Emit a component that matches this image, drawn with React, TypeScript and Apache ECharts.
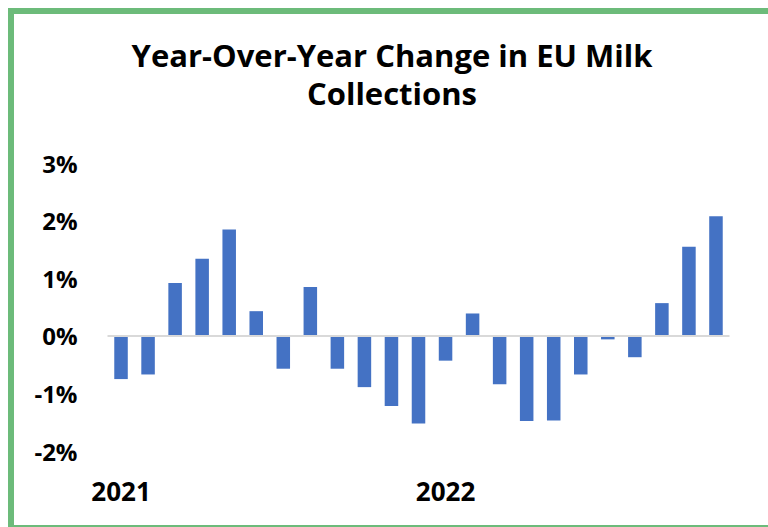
import React, { useEffect, useRef } from "react";
import * as echarts from "echarts";

const months: string[] = [
  "Jan 2021", "Feb 2021", "Mar 2021", "Apr 2021", "May 2021", "Jun 2021",
  "Jul 2021", "Aug 2021", "Sep 2021", "Oct 2021", "Nov 2021", "Dec 2021",
  "Jan 2022", "Feb 2022", "Mar 2022", "Apr 2022", "May 2022", "Jun 2022",
  "Jul 2022", "Aug 2022", "Sep 2022", "Oct 2022", "Nov 2022",
];

const yoyChange: number[] = [
  -0.75, -0.67, 0.92, 1.34, 1.85, 0.43, -0.57, 0.85, -0.57, -0.89, -1.22, -1.52,
  -0.43, 0.39, -0.84, -1.48, -1.47, -0.67, -0.06, -0.37, 0.57, 1.55, 2.08,
];

const yearLabelIndices: number[] = [0, 12];
const titleLines: string[] = ["Year-Over-Year Change in EU Milk", "Collections"];

const FONT = "'Open Sans', Lato, sans-serif";

export default function App() {
  const ref = useRef<HTMLDivElement>(null);
  useEffect(() => {
    if (!ref.current) return;
    const chart = echarts.init(ref.current, undefined, { renderer: "svg" });
    chart.setOption({
      animation: false,
      backgroundColor: "#ffffff",
      graphic: [
        { type: "rect", shape: { x: 8, y: 8, width: 800, height: 6 }, style: { fill: "#6CBB7A" } },
        { type: "rect", shape: { x: 8, y: 8, width: 6, height: 540 }, style: { fill: "#6CBB7A" } },
        { type: "rect", shape: { x: 8, y: 525, width: 800, height: 6 }, style: { fill: "#6CBB7A" } },
        {
          type: "text", x: 392, y: 74,
          style: {
            text: titleLines.join("\n"),
            textAlign: "center",
            textVerticalAlign: "middle",
            fontFamily: FONT,
            fontWeight: "bold",
            fontSize: 31,
            lineHeight: 38,
            fill: "#000",
          },
        },
      ],
      grid: { left: 107.5, right: 38.5, top: 163.3, bottom: 527 - 451, containLabel: false },
      xAxis: {
        type: "category",
        data: months,
        axisLine: { show: false },
        axisTick: { show: false },
        axisLabel: {
          interval: (i: number) => yearLabelIndices.includes(i),
          formatter: (v: string) => v.split(" ")[1],
          margin: 27,
          fontFamily: FONT,
          fontWeight: "bold",
          fontSize: 26,
          color: "#000",
        },
      },
      yAxis: {
        type: "value",
        min: -2,
        max: 3,
        interval: 1,
        axisLine: { show: false },
        axisTick: { show: false },
        splitLine: { show: false },
        axisLabel: {
          formatter: "{value}%",
          margin: 30,
          fontFamily: FONT,
          fontWeight: "bold",
          fontSize: 24,
          color: "#000",
        },
      },
      series: [
        {
          type: "bar",
          data: yoyChange,
          barWidth: "50%",
          itemStyle: { color: "#4472C4" },
          markLine: {
            silent: true,
            symbol: "none",
            label: { show: false },
            lineStyle: { color: "#D9D9D9", width: 2, type: "solid" },
            data: [{ yAxis: 0 }],
          },
        },
      ],
    });
    return () => chart.dispose();
  }, []);
  return <div ref={ref} style={{ position: "fixed", left: 0, top: 0, width: 768, height: 527 }} />;
}
